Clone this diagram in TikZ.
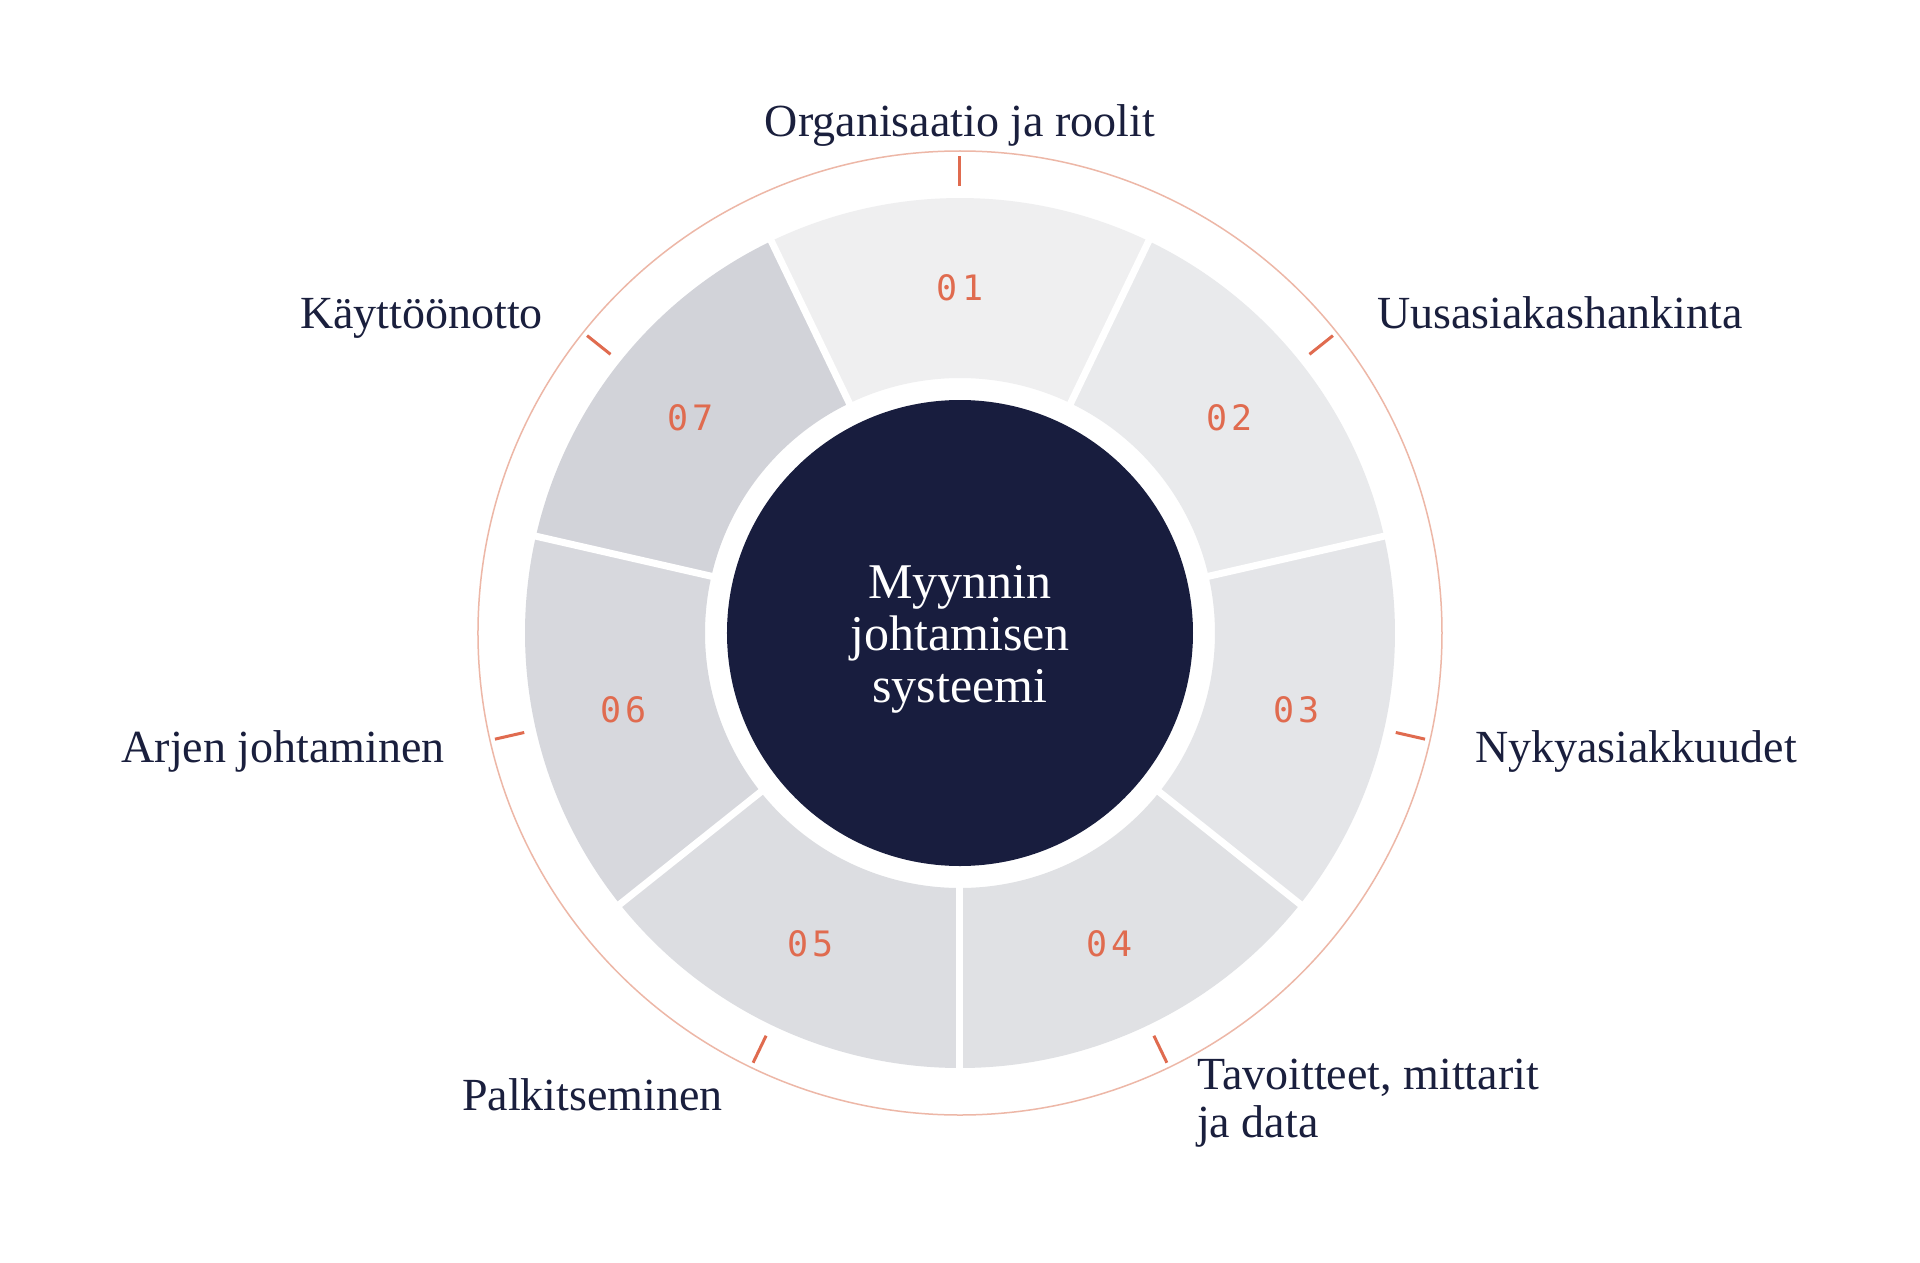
\documentclass[tikz,border=0pt]{standalone}
\usepackage{fontspec}
\setmainfont{Liberation Serif}
\newfontfamily\numfont[LetterSpace=12]{DejaVu Sans Mono}

\definecolor{navy}{HTML}{181D3E}
\definecolor{ink}{HTML}{1A1F3D}
\definecolor{coral}{HTML}{E06B4F}
\definecolor{salmon}{HTML}{EDB7A7}
\definecolor{segA}{HTML}{EFEFF0}
\definecolor{segB}{HTML}{E9EAEC}
\definecolor{segC}{HTML}{E4E5E8}
\definecolor{segD}{HTML}{E0E1E4}
\definecolor{segE}{HTML}{DCDDE1}
\definecolor{segF}{HTML}{D7D8DD}
\definecolor{segG}{HTML}{D2D3D9}

\begin{document}
\begin{tikzpicture}[x=1pt,y=1pt,
	gap/.style={draw=white,line width=7pt},
	tickmark/.style={draw=coral,line width=3pt},
	ring/.style={draw=salmon,line width=1.5pt},
	hub/.style={circle,fill=navy,minimum size=466pt,inner sep=0pt},
	hubtext/.style={text=white,inner sep=0pt,align=center,font=\fontsize{50}{52}\selectfont},
	num/.style={text=coral,inner sep=0pt,font=\numfont\fontsize{35}{35}\selectfont},
	lbl/.style={text=ink,inner sep=0pt,align=left,font=\fontsize{46}{48}\selectfont}]
\fill[white] (-960,-629) rectangle (960,633);
\useasboundingbox (-960,-629) rectangle (960,633);

\fill[segA] (115.71:435) arc[start angle=115.71,end angle=64.29,radius=435]   -- (64.29:255)   arc[start angle=64.29,end angle=115.71,radius=255]   -- cycle;
\fill[segB] (64.29:435)  arc[start angle=64.29,end angle=12.86,radius=435]    -- (12.86:255)   arc[start angle=12.86,end angle=64.29,radius=255]    -- cycle;
\fill[segC] (12.86:435)  arc[start angle=12.86,end angle=-38.57,radius=435]   -- (-38.57:255)  arc[start angle=-38.57,end angle=12.86,radius=255]   -- cycle;
\fill[segD] (-38.57:435) arc[start angle=-38.57,end angle=-90,radius=435]     -- (-90:255)     arc[start angle=-90,end angle=-38.57,radius=255]     -- cycle;
\fill[segE] (-90:435)    arc[start angle=-90,end angle=-141.43,radius=435]    -- (-141.43:255) arc[start angle=-141.43,end angle=-90,radius=255]    -- cycle;
\fill[segF] (-141.43:435) arc[start angle=-141.43,end angle=-192.86,radius=435] -- (-192.86:255) arc[start angle=-192.86,end angle=-141.43,radius=255] -- cycle;
\fill[segG] (-192.86:435) arc[start angle=-192.86,end angle=-244.29,radius=435] -- (-244.29:255) arc[start angle=-244.29,end angle=-192.86,radius=255] -- cycle;

\path[gap]	(115.71:248)	edge	(115.71:442)
		(64.29:248)	edge	(64.29:442)
		(12.86:248)	edge	(12.86:442)
		(-38.57:248)	edge	(-38.57:442)
		(-90:248)	edge	(-90:442)
		(-141.43:248)	edge	(-141.43:442)
		(-192.86:248)	edge	(-192.86:442);

\draw[ring] (0,0) circle[radius=482];

\path[tickmark]	(90:447)	edge	(90:477)
		(38.57:447)	edge	(38.57:477)
		(-12.86:447)	edge	(-12.86:477)
		(-64.29:447)	edge	(-64.29:477)
		(-115.71:447)	edge	(-115.71:477)
		(-167.14:447)	edge	(-167.14:477)
		(141.43:447)	edge	(141.43:477);

\node[hub]	(hub)	at (0,0)	{};
\node[hubtext]	(title)	at ([yshift=-6pt]hub.center)	{Myynnin\\johtamisen\\systeemi};

\node[num]	(n_1)	at (90:345)	{01};
\node[num]	(n_2)	at (38.57:345)	{02};
\node[num]	(n_3)	at (-12.86:345)	{03};
\node[num]	(n_4)	at (-64.29:345)	{04};
\node[num]	(n_5)	at (-115.71:345)	{05};
\node[num]	(n_6)	at (-167.14:345)	{06};
\node[num]	(n_7)	at (141.43:345)	{07};

\node[lbl,anchor=base]		(l_1)	at (0,496)	{Organisaatio ja roolit};
\node[lbl,anchor=base west]	(l_2)	at (417,305)	{Uusasiakashankinta};
\node[lbl,anchor=base west]	(l_3)	at (515,-129)	{Nykyasiakkuudet};
\node[lbl,anchor=west]		(l_4)	at (237,-470)	{Tavoitteet, mittarit\\ja data};
\node[lbl,anchor=base east]	(l_5)	at (-237,-477)	{Palkitseminen};
\node[lbl,anchor=base east]	(l_6)	at (-515,-129)	{Arjen johtaminen};
\node[lbl,anchor=base east]	(l_7)	at (-417,305)	{Käyttöönotto};
\end{tikzpicture}
\end{document}
